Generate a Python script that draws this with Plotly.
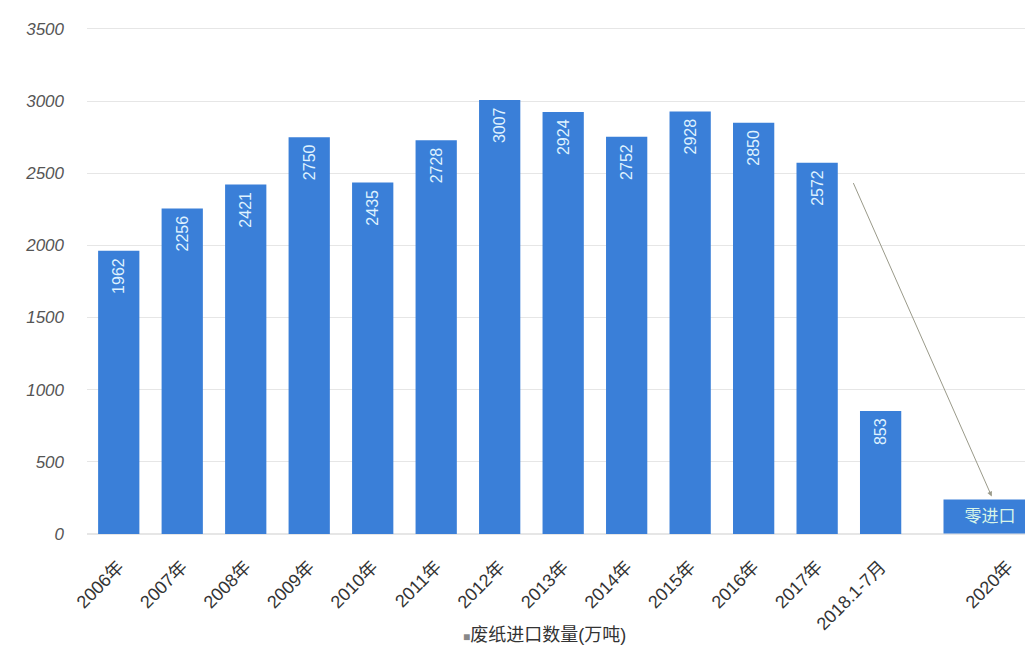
import plotly.graph_objects as go

categories = ["2006年", "2007年", "2008年", "2009年", "2010年", "2011年", "2012年",
              "2013年", "2014年", "2015年", "2016年", "2017年", "2018.1-7月", "2020年"]
values = [1962, 2256, 2421, 2750, 2435, 2728, 3007, 2924, 2752, 2928, 2850, 2572, 853, 0]
bar_labels = [f"{v}\u00a0" for v in values[:-1]] + [""]
axis_order = categories[:13] + [" "] + categories[13:]
y_ticks = [0, 500, 1000, 1500, 2000, 2500, 3000, 3500]
series_name = "废纸进口数量(万吨)"
zero_label = "零进口"
zero_box_value = 225

blue = "#3a7fd8"
font_family = "Liberation Sans, Noto Sans CJK SC, sans-serif"

fig = go.Figure()
fig.add_trace(go.Bar(
    x=categories, y=values, name=series_name, showlegend=False,
    marker=dict(color=blue, line=dict(width=0)),
    text=bar_labels, textposition="inside", insidetextanchor="end",
    textangle=-90,
    textfont=dict(color="#dff2ff", size=16, family=font_family),
    cliponaxis=False,
))

i2017 = axis_order.index("2017年")
i2020 = axis_order.index("2020年")

# zero import box
fig.add_annotation(
    x=i2020 - 0.28, y=0, xref="x", yref="y", yanchor="bottom",
    text=zero_label, showarrow=False,
    bgcolor=blue, width=90, height=31,
    font=dict(color="#d8f5e8", size=17, family=font_family),
)
# arrow
fig.add_annotation(
    x=i2020 - 0.25, y=zero_box_value + 35, xref="x", yref="y",
    ax=i2017 + 0.56, ay=values[categories.index("2017年")] - 130,
    axref="x", ayref="y",
    showarrow=True, arrowhead=2, arrowsize=1, arrowwidth=1,
    arrowcolor="#9a9a8a", text="",
)
# legend
fig.add_annotation(
    x=0.484, y=-0.199, xref="paper", yref="paper", showarrow=False,
    xanchor="center", yanchor="middle",
    text=f"<span style='font-size:12px;color:#888888'>■</span>{series_name}",
    font=dict(size=18, color="#333333", family=font_family),
)

fig.update_layout(
    width=1025, height=658,
    margin=dict(l=79, r=0, t=18, b=132),
    paper_bgcolor="white", plot_bgcolor="white",
    bargap=0.35,
    font=dict(family=font_family, color="#333333"),
    showlegend=False,
    xaxis=dict(type="category", categoryorder="array", categoryarray=axis_order,
               range=[-0.5, 14.4], tickangle=-45, automargin=False,
               tickfont=dict(size=18, color="#333333"), ticklabelstandoff=18,
               showgrid=False, showline=False, ticks=""),
    yaxis=dict(range=[0, 3520], tickvals=y_ticks, showgrid=True, gridcolor="#e6e6e6",
               gridwidth=1, zeroline=True, zerolinecolor="#e6e6e6", automargin=False,
               tickfont=dict(size=17, color="#555555", style="italic"),
               ticklabelstandoff=22),
)

fig.write_html("out.html")
